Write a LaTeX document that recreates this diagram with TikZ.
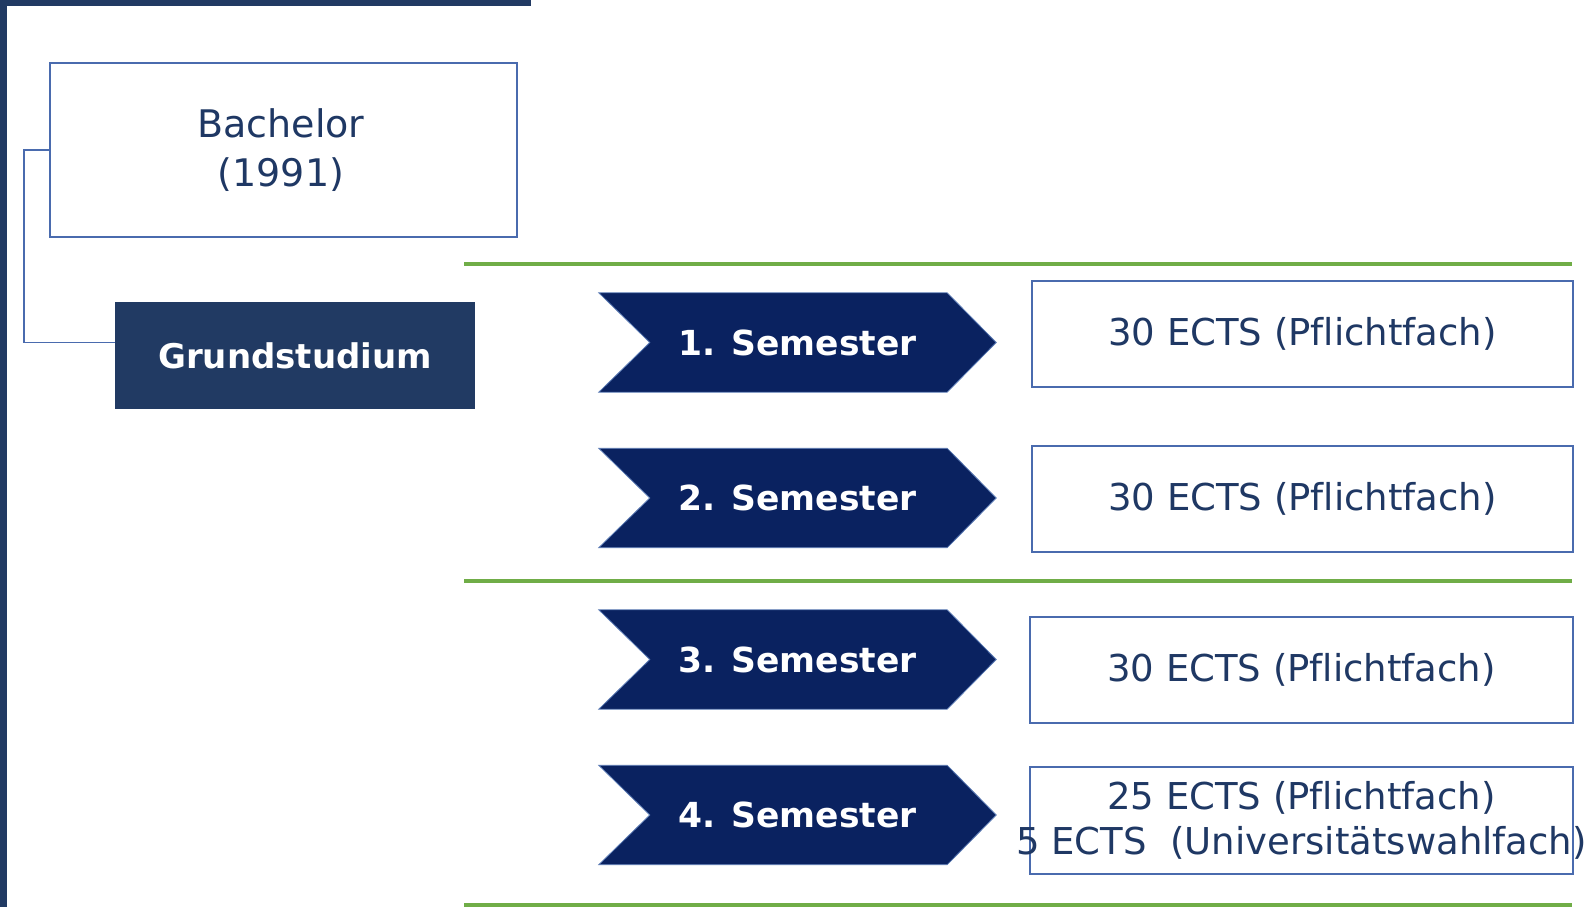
\documentclass[tikz,border=0pt]{standalone}
\usepackage{fontspec}
\setmainfont[Ligatures=NoCommon]{DejaVu Sans}
\usetikzlibrary{calc}
\definecolor{navy}{HTML}{213A63}
\definecolor{chevblue}{HTML}{0A2260}
\definecolor{chevedge}{HTML}{5B7BB5}
\definecolor{boxblue}{HTML}{4A6BAE}
\definecolor{txtnavy}{HTML}{1F3864}
\definecolor{lgreen}{HTML}{70AD47}
\tikzset{
  framebox/.style={draw=boxblue, line width=1.8pt, fill=white, inner sep=0pt},
  darkbox/.style={fill=navy, draw=none, inner sep=0pt},
  holder/.style={inner sep=0pt, minimum width=397pt, minimum height=99pt},
  chev/.style={fill=chevblue, draw=chevedge, line width=0.8pt},
  semtext/.style={text=white, font=\fontsize{34.5}{40}\selectfont\bfseries},
  ectstext/.style={text=txtnavy, font=\fontsize{37}{45}\selectfont, align=center},
  greenline/.style={draw=lgreen, line width=4pt},
  link/.style={draw=boxblue, line width=1.8pt},
}
\newcommand\semchev[3]{%
  \node[holder] (#1) at (797.5,#2) {};
  \fill[chev] (#1.north west) -- ($(#1.north east)+(-49,0)$) -- (#1.east)
     -- ($(#1.south east)+(-49,0)$) -- (#1.south west) -- ($(#1.west)+(51,0)$) -- cycle;
  \node[semtext] (#1t) at (#1.center) {#3};
}
\begin{document}
\begin{tikzpicture}[x=1pt,y=-1pt]
\useasboundingbox (0,0) rectangle (1593,907);
\fill[white] (0,0) rectangle (1593,907);
% frame bars
\fill[navy] (0,0) rectangle (531,6);
\fill[navy] (0,0) rectangle (7,907);
% Bachelor
\node[framebox, minimum width=467pt, minimum height=174pt] (bach) at (283.5,150) {};
\node[text=txtnavy, font=\fontsize{38}{49}\selectfont, align=center] (bacht) at (281,150) {Bachelor\\(1991)};
% Grundstudium
\node[darkbox, minimum width=360pt, minimum height=107pt, text=white,
      font=\fontsize{34}{40}\selectfont\bfseries] (grund) at (295,355.5) {Grundstudium};
% connector
\draw[link] (bach.west) -- ++(-25,0) |- ($(grund.west)+(0,-13)$);
% green lines
\coordinate (g1a) at (464,264); \coordinate (g1b) at (1572,264);
\coordinate (g2a) at (464,581); \coordinate (g2b) at (1572,581);
\coordinate (g3a) at (464,905); \coordinate (g3b) at (1572,905);
\draw[greenline] (g1a) -- (g1b);
\draw[greenline] (g2a) -- (g2b);
\draw[greenline] (g3a) -- (g3b);
% chevrons
\semchev{s1}{342.5}{1. Semester}
\semchev{s2}{498}{2. Semester}
\semchev{s3}{659.5}{3. Semester}
\semchev{s4}{815}{4. Semester}
% ECTS boxes
\node[framebox, minimum width=541pt, minimum height=106pt] (e1) at (1302.5,334) {};
\node[ectstext] (e1t) at (e1.center) {30 ECTS (Pflichtfach)};
\node[framebox, minimum width=541pt, minimum height=106pt] (e2) at (1302.5,499) {};
\node[ectstext] (e2t) at (e2.center) {30 ECTS (Pflichtfach)};
\node[framebox, minimum width=543pt, minimum height=106pt] (e3) at (1301.5,670) {};
\node[ectstext] (e3t) at (e3.center) {30 ECTS (Pflichtfach)};
\node[framebox, minimum width=543pt, minimum height=107pt] (e4) at (1301.5,820.5) {};
\node[ectstext] (e4t) at (e4.center) {25 ECTS (Pflichtfach)\\5 ECTS\ \ (Universitätswahlfach)};
\end{tikzpicture}
\end{document}
